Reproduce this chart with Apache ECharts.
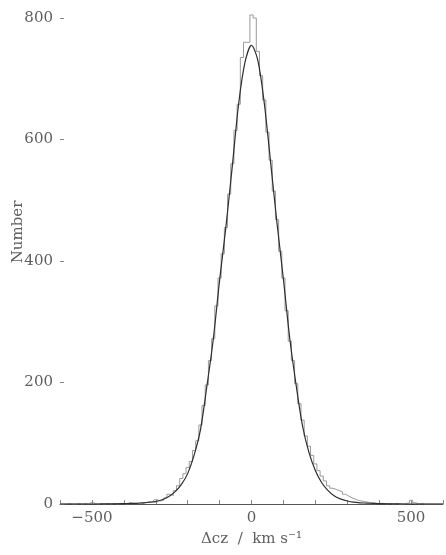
<!DOCTYPE html>
<html>
<head>
<meta charset="utf-8">
<script src="https://cdn.jsdelivr.net/npm/echarts@6/dist/echarts.min.js"></script>
<style>
  html, body { margin: 0; padding: 0; background: #ffffff; }
  #chart { width: 446px; height: 555px; }
</style>
</head>
<body>
<div id="chart"></div>
<script>
// Histogram of velocity offsets: 10 km/s bins, centred on these values (km/s)
const binCentres = [
  -600, -590, -580, -570, -560, -550, -540, -530, -520, -510,
  -500, -490, -480, -470, -460, -450, -440, -430, -420, -410,
  -400, -390, -380, -370, -360, -350, -340, -330, -320, -310,
  -300, -290, -280, -270, -260, -250, -240, -230, -220, -210,
  -200, -190, -180, -170, -160, -150, -140, -130, -120, -110,
  -100, -90, -80, -70, -60, -50, -40, -30, -20, -10,
  0, 10, 20, 30, 40, 50, 60, 70, 80, 90,
  100, 110, 120, 130, 140, 150, 160, 170, 180, 190,
  200, 210, 220, 230, 240, 250, 260, 270, 280, 290,
  300, 310, 320, 330, 340, 350, 360, 370, 380, 390,
  400, 410, 420, 430, 440, 450, 460, 470, 480, 490,
  500, 510, 520, 530, 540, 550, 560, 570, 580, 590, 600
];

// Counts per bin
const histCounts = [
  0, 0, 0, 1, 0, 0, 1, 0, 1, 0,
  3, 1, 0, 1, 0, 1, 0, 1, 0, 1,
  1, 0, 2, 1, 1, 2, 1, 2, 3, 3,
  7, 5, 6, 10, 16, 14, 22, 30, 42, 50,
  60, 70, 88, 104, 130, 162, 196, 236, 272, 326,
  372, 412, 455, 510, 560, 615, 658, 735, 760, 760,
  805, 800, 745, 705, 665, 612, 566, 515, 468, 416,
  372, 318, 268, 236, 198, 165, 138, 112, 95, 80,
  66, 55, 46, 38, 30, 26, 24, 22, 20, 16,
  13, 10, 8, 6, 5, 4, 3, 2, 2, 1,
  1, 1, 0, 1, 0, 1, 0, 0, 1, 2,
  6, 2, 0, 1, 0, 0, 0, 0, 0, 0, 0
];

// Fitted model curve (km/s, counts)
const modelX = [
  -600, -560, -520, -480, -440, -400, -380, -360, -340, -320,
  -300, -280, -260, -240, -220, -200, -180, -160, -140, -120,
  -100, -80, -60, -40, -20, 0, 20, 40, 60, 80,
  100, 120, 140, 160, 180, 200, 220, 240, 260, 280,
  300, 320, 340, 360, 380, 400, 440, 480, 520, 560, 600
];
const modelY = [
  0, 0, 0, 0, 0.2, 0.5, 1, 1, 2, 3,
  4, 7, 12, 20, 32, 50, 80, 122, 193, 270,
  368, 457, 557, 660, 728, 755, 730, 660, 562, 462,
  370, 272, 195, 128, 85, 55, 35, 22, 13, 8,
  5, 3, 2, 1.5, 1, 0.5, 0.2, 0, 0, 0, 0
];

// Axis tick labels
const xTickLabels = [-500, 0, 500];
const yTickLabels = [0, 200, 400, 600, 800];

const serif = "'DejaVu Serif', 'Liberation Serif', serif";
const textGrey = '#5e5e5e';

const histData = binCentres.map((x, i) => [x, histCounts[i]]);
const modelData = modelX.map((x, i) => [x, modelY[i]]);

const chart = echarts.init(document.getElementById('chart'));
chart.setOption({
  backgroundColor: '#ffffff',
  animation: false,
  grid: { left: 60, right: 0, top: 18, bottom: 51 },
  xAxis: {
    type: 'value',
    min: -600,
    max: 600,
    interval: 100,
    splitLine: { show: false },
    axisLine: { show: true, onZero: false, lineStyle: { color: '#555', width: 1 } },
    axisTick: { show: true, inside: true, length: 4, lineStyle: { color: '#888' } },
    axisLabel: {
      margin: 7,
      color: textGrey,
      fontFamily: serif,
      fontSize: 15,
      formatter: v => xTickLabels.includes(v) ? (v < 0 ? '\u2212' + Math.abs(v) : String(v)) : ''
    },
    name: '\u0394cz  /  km s\u207B\u00B9',
    nameLocation: 'middle',
    nameGap: 28,
    nameTextStyle: { color: textGrey, fontFamily: serif, fontSize: 15 }
  },
  yAxis: {
    type: 'value',
    min: 0,
    max: 800,
    interval: 200,
    splitLine: { show: false },
    axisLine: { show: false, onZero: false },
    axisTick: { show: true, inside: true, length: 4, lineStyle: { color: '#888' } },
    axisLabel: {
      margin: 7,
      color: textGrey,
      fontFamily: serif,
      fontSize: 15,
      formatter: v => yTickLabels.includes(v) ? String(v) : ''
    }
  },
  graphic: [{
    type: 'text',
    x: 18,
    y: 232,
    rotation: Math.PI / 2,
    style: {
      text: 'Number',
      fill: textGrey,
      font: '15px ' + serif,
      align: 'center',
      verticalAlign: 'middle'
    }
  }],
  series: [
    {
      name: 'histogram',
      type: 'line',
      data: histData,
      step: 'middle',
      symbol: 'none',
      clip: false,
      lineStyle: { color: '#9a9a9a', width: 1 },
      z: 2
    },
    {
      name: 'model',
      type: 'line',
      data: modelData,
      smooth: 0.3,
      symbol: 'none',
      clip: false,
      lineStyle: { color: '#2e2e2e', width: 1.2 },
      z: 3
    }
  ]
});
</script>
</body>
</html>
